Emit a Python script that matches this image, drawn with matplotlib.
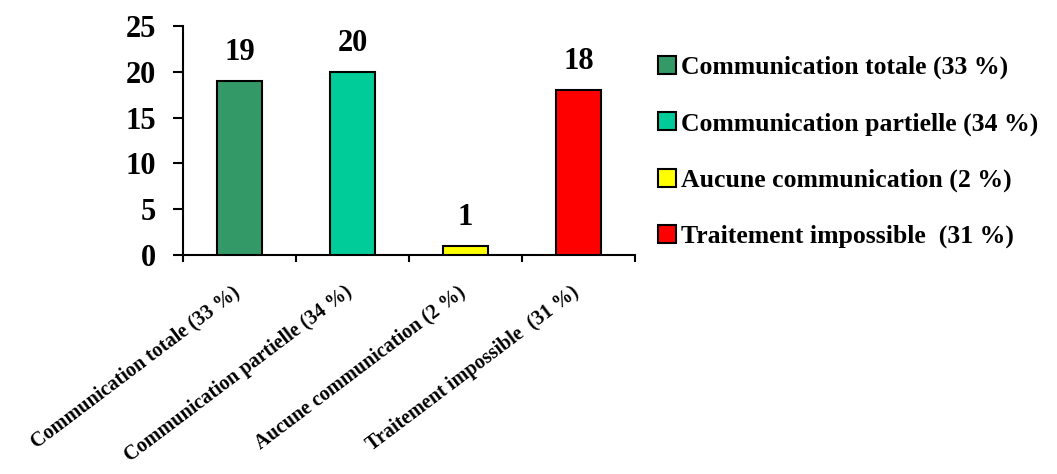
import matplotlib
matplotlib.use("Agg")
import matplotlib.pyplot as plt
from matplotlib.patches import Patch
from matplotlib.transforms import ScaledTranslation

categories = ["Communication totale (33 %)", "Communication partielle (34 %)",
              "Aucune communication (2 %)", "Traitement impossible  (31 %)"]
counts = [19, 20, 1, 18]
colors = ["#339966", "#00CC99", "#FFFF00", "#FF0000"]
yticks = [0, 5, 10, 15, 20, 25]

W, H, DPI = 1057, 474, 100
plt.rcParams["font.family"] = ["Liberation Serif", "DejaVu Serif"]
plt.rcParams["font.weight"] = "bold"

fig = plt.figure(figsize=(W / DPI, H / DPI), dpi=DPI)
ax = fig.add_axes([183 / W, 1 - 255 / H, (635 - 183) / W, (255 - 26) / H])

x = list(range(len(categories)))
bars = ax.bar(x, counts, width=0.39, color=colors, edgecolor="black", linewidth=1.5, zorder=3)
for b, v in zip(bars, counts):
    ax.annotate(str(v), (b.get_x() + b.get_width() / 2, v), xytext=(0, 15),
                textcoords="offset points", ha="center", va="baseline",
                fontsize=22, fontweight="bold")

ax.set_xlim(-0.5, len(categories) - 0.5)
ax.set_ylim(0, 25)
ax.set_yticks(yticks)
ax.set_yticklabels([str(t) for t in yticks], fontsize=22, fontweight="bold")
ax.tick_params(axis="y", direction="out", length=7.2, width=1.5, pad=12)

# category boundaries carry the x tick marks, labels are placed at centers
ax.set_xticks([i - 0.5 for i in range(len(categories) + 1)])
ax.tick_params(axis="x", which="major", direction="out", length=5, width=1.5, labelbottom=False)
ax.set_xticks(x, minor=True)
ax.set_xticklabels(categories, minor=True, rotation=37, ha="right", va="top",
                   rotation_mode="anchor", fontsize=14.5, fontweight="bold")
ax.tick_params(axis="x", which="minor", length=0, pad=0)
shift = ScaledTranslation(-8 / DPI, -27 / DPI, fig.dpi_scale_trans)
for lab in ax.get_xticklabels(minor=True):
    lab.set_transform(lab.get_transform() + shift)

for s in ("top", "right"):
    ax.spines[s].set_visible(False)
for s in ("left", "bottom"):
    ax.spines[s].set_linewidth(1.5)

handles = [Patch(facecolor=c, edgecolor="black", linewidth=1.5) for c in colors]
fig.legend(handles, categories, loc="upper left", bbox_to_anchor=(658 / W, 1 - 56 / H),
           frameon=False, prop={"weight": "bold", "size": 18.5},
           handlelength=0.7, handleheight=0.7, handletextpad=0.2,
           labelspacing=1.28, borderpad=0, borderaxespad=0)

fig.savefig("out.png", dpi=DPI)
